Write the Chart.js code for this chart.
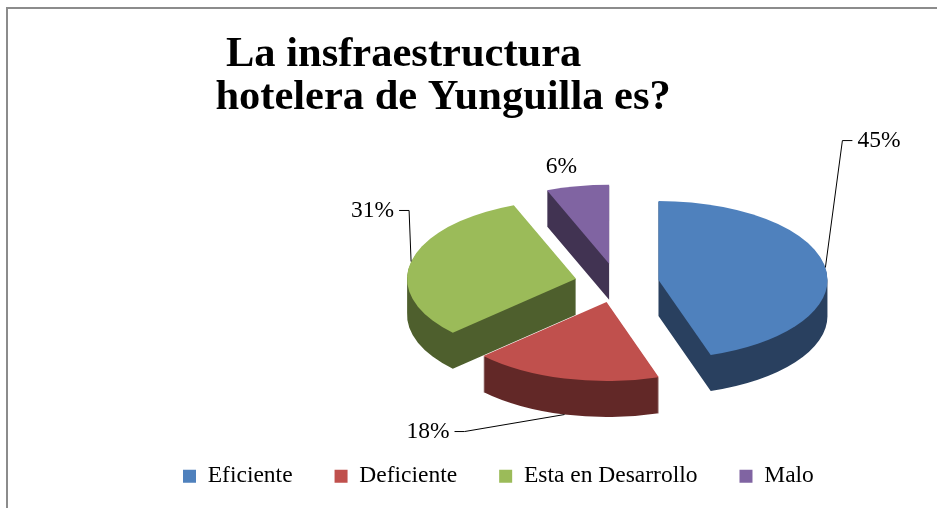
<!DOCTYPE html>
<html>
<head>
<meta charset="utf-8">
<script src="https://cdn.jsdelivr.net/npm/chart.js@4.4.1/dist/chart.umd.min.js"></script>
<style>
  html, body { margin: 0; padding: 0; background: #fff; overflow: hidden; width: 937px; height: 508px; }
  #frame { position: absolute; left: 6px; top: 7px; width: 960px; height: 520px;
           border-top: 2px solid #8c8c8c; border-left: 2px solid #8c8c8c; }
  #chart { position: absolute; left: 0; top: 0; }
</style>
</head>
<body>
<div id="frame"></div>
<canvas id="chart" width="1093" height="498"></canvas>
<script>
const labels = ['Eficiente', 'Deficiente', 'Esta en Desarrollo', 'Malo'];
const values = [45, 18, 31, 6];
const faceColors = ['#4f81bd', '#c0504d', '#9bbb59', '#8064a2'];
const sideColors = ['#29405f', '#622827', '#4e5f2d', '#413352'];

// where each leader line bends, relative to the point where it touches its slice
const labelSpots = [
	{dx: 17, dy: -127, side: 'right'},
	{dx: -100, dy: 17, side: 'left'},
	{dx: -2, dy: -51, side: 'left'},
	{dx: -16, dy: -19, side: 'none'}
];

const serif = '"Liberation Serif", "Times New Roman", serif';
const tilt = 0.4675;   // vertical squash of the pie
const depth = 36;      // thickness of the slices

function slicePath(ctx, s, down){
	ctx.moveTo(s.cx, s.cy + down);
	ctx.ellipse(s.cx, s.cy + down, s.rx, s.ry, 0, s.a0, s.a1);
	ctx.closePath();
}

// draws the pie arcs computed by chart.js as tilted, exploded 3d slices
const pie3d = {
	id: 'pie3d',
	beforeDatasetsDraw(chart){
		const ctx = chart.ctx;
		const arcs = chart.getDatasetMeta(0).data;
		const total = values.reduce((a, b) => a + b, 0);
		let slices = arcs.map((arc, i) => {
			const p = arc.getProps(['x', 'y', 'startAngle', 'endAngle', 'outerRadius'], true);
			const mid = (p.startAngle + p.endAngle) / 2;
			const off = arc.options.offset;
			return {i: i, a0: p.startAngle, a1: p.endAngle, mid: mid,
				rx: p.outerRadius, ry: p.outerRadius * tilt,
				cx: p.x + Math.cos(mid) * off, cy: p.y + Math.sin(mid) * off * tilt};
		});
		slices.sort((a, b) => a.cy - b.cy);

		ctx.save();
		for (const s of slices){
			ctx.beginPath();
			for (let t = depth; t > 0; t--) slicePath(ctx, s, t);
			ctx.fillStyle = sideColors[s.i];
			ctx.fill();
			ctx.beginPath();
			slicePath(ctx, s, 0);
			ctx.fillStyle = faceColors[s.i];
			ctx.fill();
		}

		ctx.font = '23.5px ' + serif;
		ctx.fillStyle = '#000';
		ctx.strokeStyle = '#000';
		ctx.lineWidth = 1;
		ctx.textBaseline = 'middle';
		for (const s of slices){
			const spot = labelSpots[s.i];
			const ax = s.cx + Math.cos(s.mid) * s.rx;
			let ay = s.cy + Math.sin(s.mid) * s.ry;
			if (Math.sin(s.mid) > 0) ay += depth;
			const ex = ax + spot.dx, ey = ay + spot.dy;
			const text = Math.round(values[s.i] / total * 100) + '%';
			if (spot.side == 'none'){
				ctx.textAlign = 'center';
				ctx.fillText(text, ex, ey);
				continue;
			}
			const dir = spot.side == 'right' ? 1 : -1;
			ctx.beginPath();
			ctx.moveTo(ax, ay);
			ctx.lineTo(ex, ey);
			ctx.lineTo(ex + dir * 10, ey);
			ctx.stroke();
			ctx.textAlign = spot.side == 'right' ? 'left' : 'right';
			ctx.fillText(text, ex + dir * 15, ey);
		}
		ctx.restore();
		return false;
	}
};

new Chart(document.getElementById('chart'), {
	type: 'pie',
	data: {
		labels: labels,
		datasets: [{
			data: values,
			backgroundColor: faceColors,
			borderWidth: 0,
			offset: 42,
			radius: 169
		}]
	},
	options: {
		responsive: false,
		animation: false,
		events: [],
		layout: {padding: {left: 141, right: 0, top: 0, bottom: 0}},
		plugins: {
			title: {
				display: true,
				align: 'start',
				color: '#000',
				text: ['        La insfraestructura', '       hotelera de Yunguilla es?'],
				font: {family: serif, size: 42.5, weight: 'bold', lineHeight: 43 / 42.5},
				padding: {top: 33.2, bottom: 24.3}
			},
			legend: {
				position: 'bottom',
				align: 'start',
				labels: {
					color: '#000',
					boxWidth: 13,
					boxHeight: 13,
					padding: 42,
					font: {family: serif, size: 23.5}
				}
			},
			tooltip: {enabled: false}
		}
	},
	plugins: [pie3d]
});
</script>
</body>
</html>
